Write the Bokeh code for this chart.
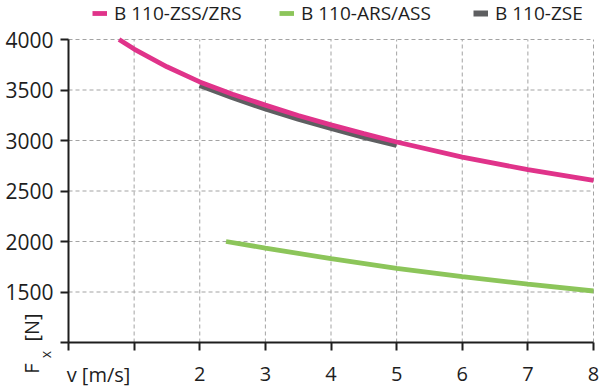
from bokeh.plotting import figure
from bokeh.models import Range1d, FixedTicker, Legend, LegendItem, Label
from bokeh.embed import file_html
from bokeh.resources import INLINE
import math

# ---- data ----
v_zss = [0.77, 1.0, 1.5, 2.0, 2.5, 3.0, 3.5, 4.0, 4.5, 5.0, 6.0, 7.0, 8.0]
f_zss = [4000, 3905, 3730, 3580, 3458, 3350, 3248, 3155, 3068, 2985, 2835, 2712, 2605]

v_ars = [2.4, 3.0, 4.0, 5.0, 6.0, 7.0, 8.0]
f_ars = [2000, 1935, 1830, 1735, 1652, 1578, 1510]

v_zse = [2.0, 2.5, 3.0, 3.5, 4.0, 4.5, 5.0]
f_zse = [3550, 3428, 3318, 3217, 3124, 3037, 2956]

x_ticks = [0, 1, 2, 3, 4, 5, 6, 7, 8]
y_ticks = [1000, 1500, 2000, 2500, 3000, 3500, 4000]

names = ["B 110-ZSS/ZRS", "B 110-ARS/ASS", "B 110-ZSE"]
colors = ["#e0338a", "#8cc55a", "#5e5f61"]

FONT = "Open Sans"
TXT = "#1e1e1e"

W, H = 600, 389
# pixel placement of the axes box (layout only)
X0PX, X8PX = 68, 593
Y4000PX, Y1000PX = 39, 342
sx = (X8PX - X0PX) / (x_ticks[-1] - x_ticks[0])
sy = (Y1000PX - Y4000PX) / (y_ticks[-1] - y_ticks[0])
x_lo = x_ticks[0] - X0PX / sx
x_hi = x_ticks[-1] + (W - X8PX) / sx
y_lo = y_ticks[0] - (H - Y1000PX) / sy
y_hi = y_ticks[-1] + Y4000PX / sy


def dx(px):
    return x_ticks[0] + (px - X0PX) / sx


def dy(py):
    return y_ticks[-1] - (py - Y4000PX) / sy


p = figure(width=W, height=H, output_backend="svg", toolbar_location=None,
           x_range=Range1d(x_lo, x_hi), y_range=Range1d(y_lo, y_hi))
p.min_border = 0
p.outline_line_alpha = 0
p.background_fill_color = "white"
p.border_fill_color = "white"
p.xgrid.visible = False
p.ygrid.visible = False

# dashed grid inside the axes box
grid_kw = dict(line_color="#a3a3a3", line_dash="4 3", line_width=1)
p.segment(x0=x_ticks, y0=[y_ticks[0]] * len(x_ticks), x1=x_ticks,
          y1=[y_ticks[-1]] * len(x_ticks), **grid_kw)
p.segment(x0=[x_ticks[0]] * len(y_ticks), y0=y_ticks, x1=[x_ticks[-1]] * len(y_ticks),
          y1=y_ticks, **grid_kw)

# axes fixed at the data origin
xa, ya = p.xaxis[0], p.yaxis[0]
xa.fixed_location = y_ticks[0]
ya.fixed_location = x_ticks[0]
xa.bounds = (x_ticks[0], x_ticks[-1])
ya.bounds = (y_ticks[0], y_ticks[-1])
for ax in (xa, ya):
    ax.axis_line_color = TXT
    ax.axis_line_width = 2
    ax.major_tick_line_color = TXT
    ax.major_tick_line_width = 2
    ax.major_tick_out = 8
    ax.major_tick_in = 0
    ax.minor_tick_line_color = None
    ax.major_label_text_font = FONT
    ax.major_label_text_color = TXT
xa.major_label_text_font_size = "20px"
ya.major_label_text_font_size = "21px"
xa.ticker = FixedTicker(ticks=x_ticks)
ya.ticker = FixedTicker(ticks=y_ticks)
xa.major_label_overrides = {0: "", 1: ""}
ya.major_label_overrides = {1000: ""}
xa.major_label_standoff = 16
ya.major_label_standoff = 7

# curves
r_zse = p.line(v_zse, f_zse, line_color=colors[2], line_width=6)
r_zss = p.line(v_zss, f_zss, line_color=colors[0], line_width=4.8)
r_ars = p.line(v_ars, f_ars, line_color=colors[1], line_width=4.8)

# legends (one per entry, across the top)
for r, name, xloc in ((r_zss, names[0], 92), (r_ars, names[1], 279), (r_zse, names[2], 473)):
    leg = Legend(items=[LegendItem(label=name, renderers=[r])],
                 location=(xloc, H - 26), orientation="horizontal",
                 glyph_width=15, glyph_height=26, label_height=26, label_standoff=7,
                 padding=0, margin=0, spacing=0,
                 border_line_alpha=0, background_fill_alpha=0,
                 label_text_font=FONT, label_text_font_size="19px",
                 label_text_color=TXT)
    p.add_layout(leg)

# axis titles
p.add_layout(Label(x=dx(98), y=dy(374), text="v [m/s]", text_align="center",
                   text_baseline="middle", text_font=FONT, text_font_size="20px",
                   text_color=TXT))
p.add_layout(Label(x=dx(31), y=dy(368), text="F", angle=math.pi / 2, text_align="center",
                   text_baseline="middle", text_font=FONT, text_font_size="20px",
                   text_color=TXT))
p.add_layout(Label(x=dx(45), y=dy(354), text="x", angle=math.pi / 2, text_align="center",
                   text_baseline="middle", text_font=FONT, text_font_size="14px",
                   text_color=TXT))
p.add_layout(Label(x=dx(31), y=dy(327), text="[N]", angle=math.pi / 2, text_align="center",
                   text_baseline="middle", text_font=FONT, text_font_size="20px",
                   text_color=TXT))

open("out.html", "w").write(file_html(p, INLINE))
